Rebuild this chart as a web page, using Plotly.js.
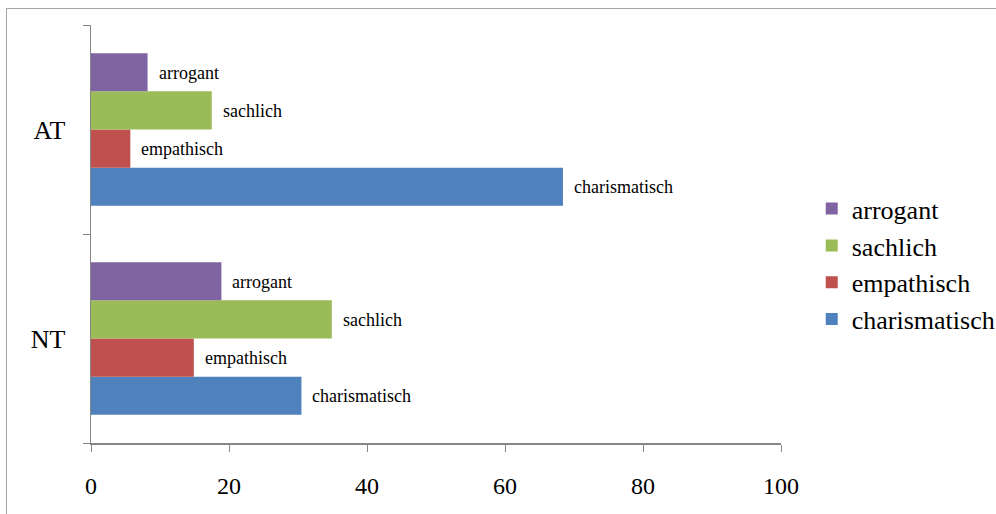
<!DOCTYPE html>
<html>
<head>
<meta charset="utf-8">
<script src="https://cdn.plot.ly/plotly-3.0.1.min.js"></script>
<style>
  html, body { margin: 0; padding: 0; background: #fff; overflow: hidden; }
  #chart { width: 996px; height: 514px; }
  #frame { position: absolute; left: 6px; top: 8px; width: 1200px; height: 800px;
           border: 1px solid #a6a6a6; pointer-events: none; }
</style>
</head>
<body>
<div id="chart"></div>
<div id="frame"></div>
<script>
// Data
const categories = ['NT', 'AT'];
const seriesNames = ['charismatisch', 'empathisch', 'sachlich', 'arrogant'];
const charismatisch = [30.5, 68.4];
const empathisch = [14.9, 5.7];
const sachlich = [34.9, 17.5];
const arrogant = [18.9, 8.2];
const xTicks = [0, 20, 40, 60, 80, 100];

const seriesValues = [charismatisch, empathisch, sachlich, arrogant];
const colors = ['#4F81BD', '#C0504D', '#9BBB59', '#8064A2'];
const FONT = 'Liberation Serif';

const traces = seriesNames.map((name, i) => ({
  type: 'bar',
  orientation: 'h',
  name: name,
  y: categories,
  x: seriesValues[i],
  marker: { color: colors[i], line: { width: 0 } },
  hoverinfo: 'x+y+name'
}));

// Data labels (series name) placed just right of each bar end
const nSeries = seriesNames.length;
const annotations = [];
seriesNames.forEach((name, i) => {
  categories.forEach((cat, j) => {
    annotations.push({
      x: seriesValues[i][j],
      y: cat,
      xref: 'x', yref: 'y',
      text: name,
      showarrow: false,
      xanchor: 'left',
      yanchor: 'middle',
      xshift: 9,
      yshift: (i - (nSeries - 1) / 2) * 38,
      font: { family: FONT, size: 18, color: '#000' }
    });
  });
});

const layout = {
  width: 996,
  height: 514,
  margin: { l: 91, r: 215, t: 25, b: 71, autoexpand: false },
  paper_bgcolor: '#fff',
  plot_bgcolor: '#fff',
  font: { family: FONT, color: '#000' },
  barmode: 'group',
  bargap: 0.27,
  bargroupgap: 0,
  showlegend: true,
  legend: {
    xref: 'container', yref: 'container',
    x: 0.815, xanchor: 'left',
    y: 0.486, yanchor: 'middle',
    traceorder: 'reversed',
    font: { family: FONT, size: 26, color: '#000' },
    bgcolor: 'rgba(0,0,0,0)'
  },
  annotations: annotations,
  xaxis: {
    range: [0, 100],
    tickvals: xTicks,
    ticktext: xTicks.map(String),
    showgrid: false,
    zeroline: false,
    showline: true,
    linecolor: '#868686',
    linewidth: 1.5,
    ticks: 'outside',
    ticklen: 7,
    tickcolor: '#868686',
    tickfont: { family: FONT, size: 24, color: '#000' },
    ticklabelstandoff: 14,
    fixedrange: true
  },
  yaxis: {
    type: 'category',
    categoryorder: 'array',
    categoryarray: categories,
    showgrid: false,
    zeroline: false,
    showline: true,
    linecolor: '#868686',
    linewidth: 1.5,
    ticks: 'outside',
    tickson: 'boundaries',
    ticklen: 7,
    tickcolor: '#868686',
    tickfont: { family: FONT, size: 26, color: '#000' },
    ticklabelstandoff: 19,
    fixedrange: true
  }
};

Plotly.newPlot('chart', traces, layout, { displayModeBar: false, staticPlot: true });
</script>
</body>
</html>
